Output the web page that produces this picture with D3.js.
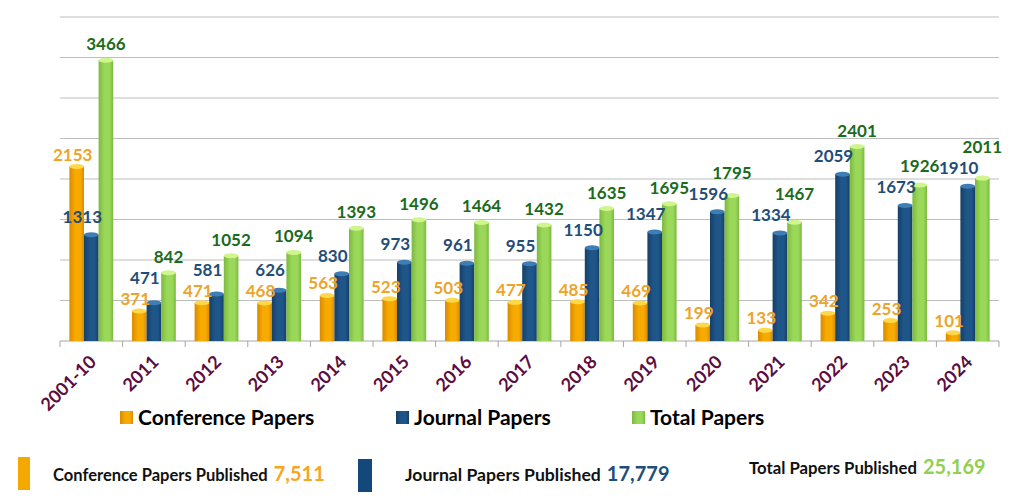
<!DOCTYPE html>
<html>
<head>
<meta charset="utf-8">
<title>Papers Published</title>
<script src="https://cdn.jsdelivr.net/npm/d3@7/dist/d3.min.js"></script>
<style>
  body { margin: 0; background: #fff; }
  svg { font-family: Lato, "Open Sans", sans-serif; }
</style>
</head>
<body>
<svg id="chart" width="1024" height="504"></svg>
<script>
// data
const years = ["2001-10", "2011", "2012", "2013", "2014", "2015", "2016", "2017", "2018", "2019", "2020", "2021", "2022", "2023", "2024"];
const conference = [2153, 371, 471, 468, 563, 523, 503, 477, 485, 469, 199, 133, 342, 253, 101];
const journal = [1313, 471, 581, 626, 830, 973, 961, 955, 1150, 1347, 1596, 1334, 2059, 1673, 1910];
const total = [3466, 842, 1052, 1094, 1393, 1496, 1464, 1432, 1635, 1695, 1795, 1467, 2401, 1926, 2011];
const seriesNames = ["Conference Papers", "Journal Papers", "Total Papers"];
const summaryLabels = ["Conference Papers Published", "Journal Papers Published", "Total Papers Published"];
const summaryValues = ["7,511", "17,779", "25,169"];

const margin = { top: 17, right: 25, bottom: 163, left: 60 };
const width = 1024 - margin.left - margin.right,
    height = 504 - margin.top - margin.bottom;

const svg = d3.select("#chart");
const g = svg.append("g").attr("transform", `translate(${margin.left},${margin.top})`);

const series = [
    { name: seriesNames[0], values: conference, mid: "#f7ab00", edge: "#d98a00", top: "#ffd84a", label: "#eea42a", dx: -4, dy: 6 },
    { name: seriesNames[1], values: journal, mid: "#1e5689", edge: "#163f66", top: "#3f7db5", label: "#1f4e79", dx: -9, dy: 12 },
    { name: seriesNames[2], values: total, mid: "#9ad85a", edge: "#7db840", top: "#d0f58e", label: "#1b6b1b", dx: 0, dy: 10 }
];

const x0 = d3.scaleBand().domain(years).range([0, width]).paddingInner(0.3).paddingOuter(0.15);
const x1 = d3.scaleBand().domain(d3.range(3)).range([0, x0.bandwidth()]);
const y = d3.scaleLinear().domain([0, 4000]).range([height, 0]);

// gradients for cylinder look
const defs = svg.append("defs");
series.forEach((s, i) => {
    const gr = defs.append("linearGradient").attr("id", "grad" + i)
        .attr("x1", "0%").attr("x2", "100%").attr("y1", "0%").attr("y2", "0%");
    gr.append("stop").attr("offset", "0%").attr("stop-color", s.edge);
    gr.append("stop").attr("offset", "40%").attr("stop-color", s.mid);
    gr.append("stop").attr("offset", "75%").attr("stop-color", s.mid);
    gr.append("stop").attr("offset", "100%").attr("stop-color", s.edge);
});

// gridlines
g.append("g")
    .selectAll("line")
    .data(y.ticks(8).filter(d => d > 0))
    .join("line")
    .attr("x1", 0).attr("x2", width)
    .attr("y1", d => y(d)).attr("y2", d => y(d))
    .attr("stroke", "#bdbdbd").attr("stroke-width", 1);

// x axis line and ticks at band boundaries
const step = x0.step();
g.append("line")
    .attr("x1", 0).attr("x2", width).attr("y1", height).attr("y2", height)
    .attr("stroke", "#a6a6a6");
g.append("g")
    .selectAll("line")
    .data(years.concat(["end"]))
    .join("line")
    .attr("x1", (d, i) => i * step).attr("x2", (d, i) => i * step)
    .attr("y1", height).attr("y2", height + 6)
    .attr("stroke", "#a6a6a6");

// bars
const groups = g.append("g").selectAll("g")
    .data(years)
    .join("g")
    .attr("transform", d => `translate(${x0(d)},0)`);

series.forEach((s, si) => {
    const bw = x1.bandwidth();
    groups.append("rect")
        .attr("x", x1(si))
        .attr("y", (d, i) => y(s.values[i]))
        .attr("width", bw)
        .attr("height", (d, i) => height - y(s.values[i]))
        .attr("fill", `url(#grad${si})`);
    groups.append("ellipse")
        .attr("cx", x1(si) + bw / 2)
        .attr("cy", (d, i) => y(s.values[i]))
        .attr("rx", bw / 2)
        .attr("ry", 2.5)
        .attr("fill", s.top);
});

// value labels
series.forEach((s, si) => {
    groups.append("text")
        .attr("class", "vlab s" + si)
        .attr("x", x1(si) + x1.bandwidth() / 2 + s.dx)
        .attr("y", (d, i) => y(s.values[i]) - s.dy)
        .attr("text-anchor", "middle")
        .attr("font-size", 17)
        .attr("font-weight", "bold")
        .attr("fill", s.label)
        .text((d, i) => s.values[i]);
});

// push labels up when they collide inside a group
groups.each(function () {
    const labs = d3.select(this).selectAll("text.vlab").nodes()
        .map(n => ({ n, b: n.getBBox(), y: +n.getAttribute("y") }))
        .sort((a, b) => b.y - a.y);
    for (let i = 0; i < labs.length; i++) {
        for (let j = i + 1; j < labs.length; j++) {
            const lo = labs[i], up = labs[j];
            const lineH = lo.b.height;
            const hOver = lo.b.x < up.b.x + up.b.width && up.b.x < lo.b.x + lo.b.width;
            if (hOver && up.y > lo.y - lineH) {
                up.y = lo.y - lineH;
                up.n.setAttribute("y", up.y);
            }
        }
    }
});

// category labels
g.append("g").selectAll("text")
    .data(years)
    .join("text")
    .attr("transform", d => `translate(${x0(d) + x0.bandwidth() / 2 + 6},${height + 22}) rotate(-45)`)
    .attr("text-anchor", "end")
    .attr("font-size", 18)
    .attr("font-weight", "bold")
    .attr("fill", "#5e0b3d")
    .text(d => d);

// legend
const legendX = [120, 396, 632];
const leg = svg.append("g").selectAll("g")
    .data(series)
    .join("g")
    .attr("transform", (d, i) => `translate(${legendX[i]},411)`);
leg.append("rect").attr("width", 13).attr("height", 13)
    .attr("fill", (d, i) => `url(#grad${i})`);
leg.append("text").attr("x", 18).attr("y", 14)
    .attr("font-size", 21).attr("font-weight", "bold").attr("fill", "#000")
    .text(d => d.name);

// summary row
const sumX = [53, 405, 749];
const sumW = [215, 196, 168];
const sumY = [481, 481, 474];
const sumColors = ["#f5a623", "#1f4e79", "#92d050"];
svg.append("rect").attr("x", 18).attr("y", 457).attr("width", 12).attr("height", 33).attr("fill", "#f5a800");
svg.append("rect").attr("x", 358).attr("y", 459).attr("width", 14).attr("height", 33).attr("fill", "#13487a");
summaryLabels.forEach((lab, i) => {
    const t = svg.append("text")
        .attr("x", sumX[i]).attr("y", sumY[i])
        .attr("font-size", 17).attr("font-weight", "bold")
        .attr("fill", "#111")
        .text(lab);
    // fit the label to its width by font size
    const w = t.node().getComputedTextLength();
    t.attr("font-size", (17 * sumW[i] / w).toFixed(2));
    const w2 = t.node().getComputedTextLength();
    svg.append("text")
        .attr("x", sumX[i] + w2 + 6).attr("y", sumY[i])
        .attr("font-size", 20).attr("font-weight", "bold")
        .attr("fill", sumColors[i])
        .text(summaryValues[i]);
});
</script>
</body>
</html>
